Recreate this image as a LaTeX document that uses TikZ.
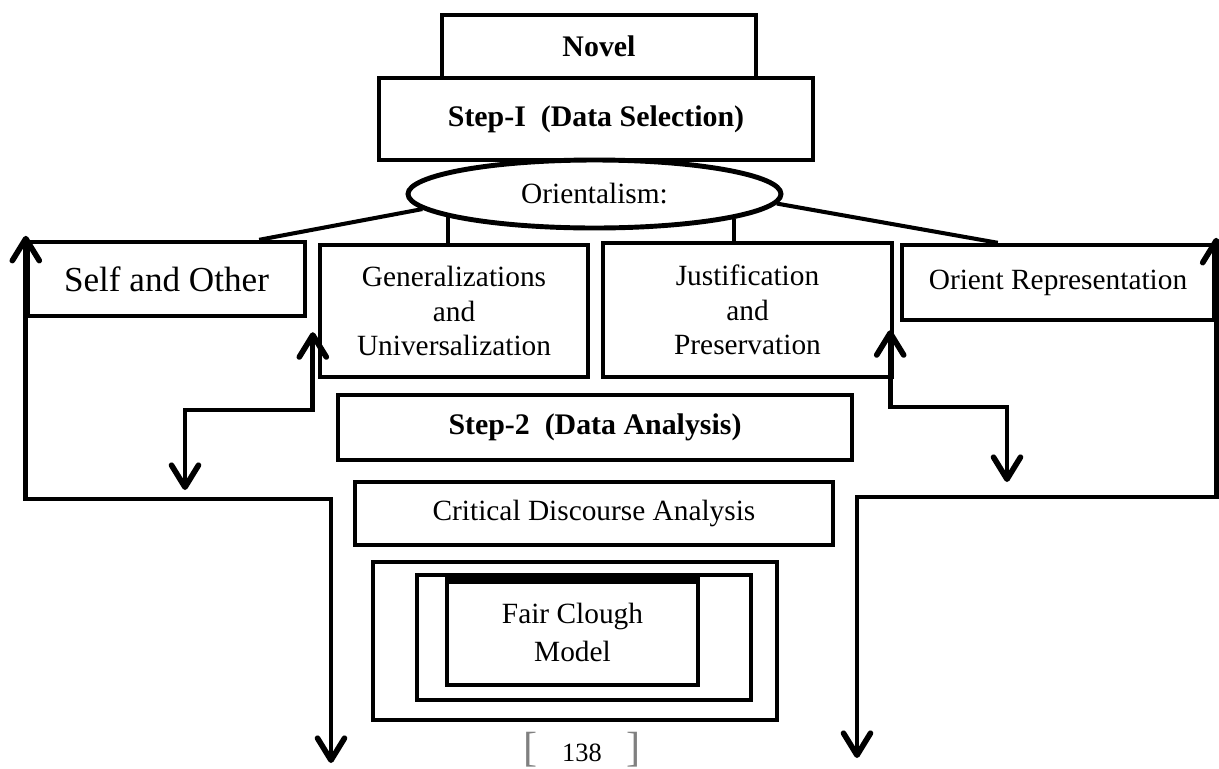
\documentclass[tikz,border=0pt]{standalone}
\usepackage{fontspec}
\setmainfont{Liberation Serif}
\usetikzlibrary{shapes.geometric,arrows.meta}

\begin{document}
\begin{tikzpicture}[box/.style={draw,line width=2.5pt,inner sep=0pt,align=center,font=\fontsize{16.7}{19.8}\selectfont},
  head/.style={box,font=\fontsize{17}{20}\selectfont\bfseries},
  link/.style={line width=2.3pt},
  flow/.style={line width=2.8pt,<->,>={Straight Barb[length=4.4mm,width=5.4mm,line width=3.2pt,round]}}]
\useasboundingbox (0,0) rectangle (24.38,-15.38);
\node[head,minimum width=6.28cm,minimum height=1.26cm] (novel) at (11.98,-0.93) {Novel};
\node[head,fill=white,minimum width=8.68cm,minimum height=1.64cm] (step1) at (11.92,-2.38) {Step-I\ \ (Data Selection)};
\node[box,ellipse,fill=white,line width=2.8pt,minimum width=7.46cm,minimum height=1.36cm] (ori) at (11.89,-3.88) {Orientalism:};
\node[box,minimum width=5.54cm,minimum height=1.48cm,font=\fontsize{20}{24}\selectfont] (self) at (3.33,-5.58) {Self and Other};
\node[box,minimum width=5.36cm,minimum height=2.64cm] (gen) at (9.08,-6.22) {Generalizations\\and\\Universalization};
\node[box,minimum width=5.78cm,minimum height=2.68cm] (just) at (14.95,-6.2) {Justification\\and\\Preservation};
\node[box,minimum width=6.24cm,minimum height=1.5cm] (orient) at (21.16,-5.65) {Orient Representation};
\node[head,minimum width=10.28cm,minimum height=1.3cm] (step2) at (11.9,-8.55) {Step-2\ \ (Data Analysis)};
\node[box,minimum width=9.56cm,minimum height=1.26cm] (cda) at (11.88,-10.27) {Critical Discourse Analysis};
\node[box,minimum width=8.08cm,minimum height=3.16cm] (outer) at (11.5,-12.82) {};
\node[box,minimum width=6.68cm,minimum height=2.5cm] (middle) at (11.68,-12.75) {};
\node[box,minimum width=5.02cm,minimum height=2.1cm,font=\fontsize{16.7}{21.5}\selectfont] (inner) at (11.45,-12.65) {Fair Clough\\Model};
\draw[line width=4.5pt] ([yshift=-0.05cm]inner.north west) -- ([yshift=-0.05cm]inner.north east);
\node[anchor=south,inner sep=0pt,font=\fontsize{15}{18}\selectfont] (page) at (11.64,-15.34)
  {\textcolor{gray}{\fontsize{24}{24}\selectfont[}\hspace{0.5cm}138\hspace{0.5cm}\textcolor{gray}{\fontsize{24}{24}\selectfont]}};
\draw[link] (ori.185) -- ([xshift=-0.96cm]self.north east);
\draw[link] (ori.189) -- (ori.189 |- gen.north);
\draw[link] (ori.350) -- (ori.350 |- just.north);
\draw[link] (ori.357) -- ([xshift=1.96cm]orient.north west);
\coordinate (lb) at (6.62,-9.98);
\coordinate (lbend) at (6.62,-15.26);
\coordinate (rb) at (17.14,-9.94);
\coordinate (rbend) at (17.14,-15.16);
\coordinate (ls) at (3.7,-8.2);
\coordinate (lsend) at (3.7,-9.8);
\coordinate (rs) at (20.14,-8.14);
\coordinate (rsend) at (20.14,-9.64);
\draw[flow] ([yshift=0.08cm]self.north west) |- (lb) -- (lbend);
\draw[flow] ([yshift=0.1cm]orient.north east) |- (rb) -- (rbend);
\draw[flow] ([shift={(-0.1,0.94)}]gen.south west) |- (ls) -- (lsend);
\draw[flow] ([shift={(-0.08,0.98)}]just.south east) |- (rs) -- (rsend);
\end{tikzpicture}
\end{document}
